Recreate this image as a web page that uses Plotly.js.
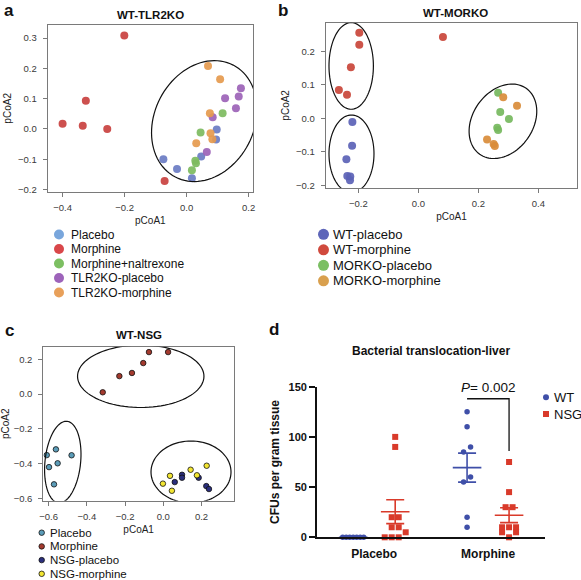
<!DOCTYPE html>
<html><head><meta charset="utf-8">
<script src="https://cdn.plot.ly/plotly-3.0.1.min.js"></script>
<style>html,body{margin:0;padding:0;background:#fff}#chart{width:581px;height:580px}</style>
</head><body><div id="chart"></div>
<script>
// ---------------- Data ----------------
// Panel a: WT-TLR2KO
const aGroups = ["Placebo", "Morphine", "Morphine+naltrexone", "TLR2KO-placebo", "TLR2KO-morphine"];
const aPlaceboX = [-0.075, -0.031, 0.017, 0.047, 0.097, 0.095];
const aPlaceboY = [-0.100, -0.132, -0.163, -0.091, -0.002, -0.035];
const aMorphineX = [-0.201, -0.325, -0.400, -0.335, -0.256, -0.071];
const aMorphineY = [0.308, 0.093, 0.017, 0.011, 0.000, -0.172];
const aNaltrexoneX = [0.045, 0.116, 0.028, 0.030, 0.017];
const aNaltrexoneY = [-0.012, 0.052, -0.105, -0.113, -0.136];
const aKoPlaceboX = [0.175, 0.168, 0.124, 0.159, 0.084, 0.065];
const aKoPlaceboY = [0.134, 0.107, 0.101, 0.068, 0.039, -0.076];
const aKoMorphineX = [0.069, 0.108, 0.075, 0.077, 0.083, 0.031];
const aKoMorphineY = [0.208, 0.164, 0.052, -0.014, -0.034, -0.047];

// Panel b: WT-MORKO
const bGroups = ["WT-placebo", "WT-morphine", "MORKO-placebo", "MORKO-morphine"];
const bWtPlaceboX = [-0.220, -0.221, -0.240, -0.237, -0.227, -0.228];
const bWtPlaceboY = [-0.011, -0.082, -0.122, -0.172, -0.174, -0.185];
const bWtMorphineX = [-0.197, -0.197, -0.225, -0.265, -0.238, 0.082];
const bWtMorphineY = [0.255, 0.219, 0.152, 0.084, 0.070, 0.242];
const bKoPlaceboX = [0.266, 0.273, 0.302, 0.263, 0.266];
const bKoPlaceboY = [0.076, 0.019, -0.002, -0.028, -0.035];
const bKoMorphineX = [0.283, 0.329, 0.229, 0.251, 0.255];
const bKoMorphineY = [0.063, 0.037, -0.063, -0.077, -0.083];

// Panel c: WT-NSG
const cGroups = ["Placebo", "Morphine", "NSG-placebo", "NSG-morphine"];
const cPlaceboX = [-0.610, -0.562, -0.480, -0.598, -0.553, -0.572];
const cPlaceboY = [-0.351, -0.318, -0.352, -0.420, -0.398, -0.519];
const cMorphineX = [-0.317, -0.230, -0.164, -0.105, -0.075, 0.025];
const cMorphineY = [0.010, 0.103, 0.121, 0.178, 0.241, 0.241];
const cNsgPlaceboX = [0.060, 0.098, 0.098, 0.185, 0.225, 0.239];
const cNsgPlaceboY = [-0.506, -0.464, -0.481, -0.481, -0.529, -0.546];
const cNsgMorphineX = [-0.002, 0.035, 0.045, 0.143, 0.176, 0.227];
const cNsgMorphineY = [-0.515, -0.470, -0.556, -0.435, -0.467, -0.412];

// Panel d: Bacterial translocation-liver (CFUs per gram tissue)
const dCategories = ["Placebo", "Morphine"];
const dSeries = ["WT", "NSG"];
const dWtPlacebo = [0, 0, 0, 0, 0, 0, 0];
const dNsgPlacebo = [100, 90, 20, 20, 10, 10, 5, 0, 0, 0];
const dWtMorphine = [125, 110, 90, 85, 60, 55, 20, 10];
const dNsgMorphine = [75, 45, 30, 30, 10, 10, 10, 5, 5, 0];
const dPText = "<i>P</i>= 0.002";

// ---------------- Styling / layout ----------------
const W = 581, H = 580;
const FONT = "Liberation Sans, Arial, Helvetica, sans-serif";
const px2x = p => p / W;
const px2y = p => 1 - p / H;

// plot frames in px: [left, right, top, bottom]
const frames = {
  a: [47.7, 253, 25, 191.7],
  b: [325.7, 577.3, 22.7, 188],
  c: [43.3, 234, 346.7, 500.7],
  d: [316.7, 545, 386.7, 537.3]
};
const ranges = {
  a: {x: [-0.448, 0.214], y: [-0.207, 0.343]},
  b: {x: [-0.309, 0.530], y: [-0.208, 0.285]},
  c: {x: [-0.628, 0.370], y: [-0.613, 0.272]},
  d: {x: [-0.505, 1.5], y: [0, 150]}
};
const pxPer = k => ({
  x: (frames[k][1] - frames[k][0]) / (ranges[k].x[1] - ranges[k].x[0]),
  y: (frames[k][3] - frames[k][2]) / (ranges[k].y[1] - ranges[k].y[0])
});
const dom = k => ({x: [px2x(frames[k][0]), px2x(frames[k][1])], y: [px2y(frames[k][3]), px2y(frames[k][2])]});

const aColors = ["#6a7cc3", "#c9413f", "#7dbb5f", "#9c63b7", "#e59a4e"];
const aLegendColors = ["#79a6dc", "#d9474a", "#7cbf62", "#9d63ba", "#e8a05a"];
const bColors = ["#5b62b6", "#c9453a", "#76b85e", "#d98c3a"];
const bLegendColors = ["#5e66b9", "#d04a3d", "#7bbf63", "#d9a04e"];
const cColors = ["#5b9cb8", "#a33a2e", "#2b2f7d", "#f2e531"];
const dColors = ["#3f4fa8", "#d93a2a"];

const traces = [];
function pcoa(xs, ys, color, axSuffix, size, outline) {
  traces.push({
    type: "scatter", mode: "markers", x: xs, y: ys,
    xaxis: "x" + axSuffix, yaxis: "y" + axSuffix, showlegend: false, hoverinfo: "x+y",
    marker: {color: color, size: size, opacity: outline ? 1 : 0.92,
      line: outline ? {color: "#111", width: 0.8} : {width: 0}}
  });
}
pcoa(aPlaceboX, aPlaceboY, aColors[0], "", 8);
pcoa(aMorphineX, aMorphineY, aColors[1], "", 8);
pcoa(aNaltrexoneX, aNaltrexoneY, aColors[2], "", 8);
pcoa(aKoPlaceboX, aKoPlaceboY, aColors[3], "", 8);
pcoa(aKoMorphineX, aKoMorphineY, aColors[4], "", 8);
pcoa(bWtPlaceboX, bWtPlaceboY, bColors[0], "2", 8);
pcoa(bWtMorphineX, bWtMorphineY, bColors[1], "2", 8);
pcoa(bKoPlaceboX, bKoPlaceboY, bColors[2], "2", 8);
pcoa(bKoMorphineX, bKoMorphineY, bColors[3], "2", 8);
pcoa(cPlaceboX, cPlaceboY, cColors[0], "3", 5.5, true);
pcoa(cMorphineX, cMorphineY, cColors[1], "3", 5.5, true);
pcoa(cNsgPlaceboX, cNsgPlaceboY, cColors[2], "3", 5.5, true);
pcoa(cNsgMorphineX, cNsgMorphineY, cColors[3], "3", 5.5, true);

// Panel d: scatter-dot plot with mean ± SEM
const dPx = pxPer("d");
const groupOffsetPx = 21;
function swarm(values, center) {
  const slotPx = 7, maxRowPx = 21, thresh = 6;
  const idx = values.map((v, i) => i).sort((i, j) => values[i] - values[j]);
  const xs = new Array(values.length);
  let k = 0;
  while (k < idx.length) {
    const start = values[idx[k]];
    const row = [];
    while (k < idx.length && values[idx[k]] - start < thresh) { row.push(idx[k]); k++; }
    const n = row.length;
    const step = n > 1 ? Math.min(slotPx, maxRowPx / (n - 1)) : 0;
    const slots = [];
    for (let s = 0; s < n; s++) slots.push((s - (n - 1) / 2) * step);
    slots.sort((p, q) => (Math.abs(p) - Math.abs(q)) || (p - q));
    row.forEach((id, r) => { xs[id] = center + slots[r] / dPx.x; });
  }
  return xs;
}
const mean = v => v.reduce((s, a) => s + a, 0) / v.length;
const sem = v => { const m = mean(v); return Math.sqrt(v.reduce((s, a) => s + (a - m) * (a - m), 0) / (v.length - 1)) / Math.sqrt(v.length); };

const dGroups = [
  {vals: dWtPlacebo, cat: 0, s: 0},
  {vals: dNsgPlacebo, cat: 0, s: 1},
  {vals: dWtMorphine, cat: 1, s: 0},
  {vals: dNsgMorphine, cat: 1, s: 1}
];
const dCenters = [];
dGroups.forEach(g => {
  const c = g.cat + (g.s === 0 ? -1 : 1) * groupOffsetPx / dPx.x;
  dCenters.push(c);
  traces.push({
    type: "scatter", mode: "markers", x: swarm(g.vals, c), y: g.vals,
    xaxis: "x4", yaxis: "y4", showlegend: false, cliponaxis: false,
    name: dSeries[g.s] + " " + dCategories[g.cat],
    marker: {color: dColors[g.s], size: g.s === 0 ? 5.5 : 6, symbol: g.s === 0 ? "circle" : "square", line: {width: 0}}
  });
  const m = mean(g.vals), e = sem(g.vals);
  const hw = 14.3 / dPx.x, cw = 9 / dPx.x;
  traces.push({
    type: "scatter", mode: "lines", xaxis: "x4", yaxis: "y4", showlegend: false, hoverinfo: "skip", cliponaxis: false,
    x: [c - hw, c + hw, null, c, c, null, c - cw, c + cw, null, c - cw, c + cw],
    y: [m, m, null, m - e, m + e, null, m - e, m - e, null, m + e, m + e],
    line: {color: dColors[g.s], width: 1.6}
  });
});
// significance bracket between WT and NSG morphine
const bracketTop = Math.max(...dWtMorphine) + 13;
const bracketLeg = Math.max(...dNsgMorphine) + 11;
traces.push({
  type: "scatter", mode: "lines", xaxis: "x4", yaxis: "y4", showlegend: false, hoverinfo: "skip", cliponaxis: false,
  x: [dCenters[2], dCenters[3], dCenters[3]], y: [bracketTop, bracketTop, bracketLeg],
  line: {color: "#111", width: 1.3}
});

// ---------------- Axes ----------------
function pcoaAxis(k, letter, dtick, title, anchor, standoff) {
  const d = dom(k);
  return {
    domain: d[letter], range: ranges[k][letter], anchor: anchor,
    showline: true, mirror: true, linecolor: "#7a7a7a", linewidth: 1,
    ticks: "outside", ticklen: 4, tickcolor: "#7a7a7a", tickwidth: 1,
    ticklabelstandoff: letter === "x" ? 3 : 4,
    tickfont: {family: FONT, size: 9.5, color: "#3a3a3a"},
    tick0: 0, dtick: dtick, tickformat: ".1f",
    showgrid: false, zeroline: false, fixedrange: true,
    title: {text: title, font: {family: FONT, size: 10, color: "#222"}, standoff: standoff}
  };
}
const layout = {
  width: W, height: H, margin: {l: 0, r: 0, t: 0, b: 0},
  paper_bgcolor: "#fff", plot_bgcolor: "#fff", showlegend: false,
  font: {family: FONT, color: "#111"},
  xaxis: pcoaAxis("a", "x", 0.2, "pCoA1", "y", 4),
  yaxis: pcoaAxis("a", "y", 0.1, "pCoA2", "x", 4),
  xaxis2: pcoaAxis("b", "x", 0.2, "pCoA1", "y2", 4),
  yaxis2: pcoaAxis("b", "y", 0.1, "pCoA2", "x2", 4),
  xaxis3: pcoaAxis("c", "x", 0.2, "pCoA1", "y3", 4),
  yaxis3: pcoaAxis("c", "y", 0.2, "pCoA2", "x3", 4),
  xaxis4: {
    domain: dom("d").x, range: ranges.d.x, anchor: "y4",
    showline: true, linecolor: "#111", linewidth: 1.6, ticks: "",
    tickvals: [0, 1], ticktext: dCategories, ticklabelstandoff: 5,
    tickfont: {family: FONT, size: 12, color: "#111", weight: "bold"},
    showgrid: false, zeroline: false, fixedrange: true
  },
  yaxis4: {
    domain: dom("d").y, range: ranges.d.y, anchor: "x4",
    showline: true, linecolor: "#111", linewidth: 1.6,
    ticks: "outside", ticklen: 6, tickwidth: 1.6, tickcolor: "#111",
    tickvals: [0, 50, 100, 150],
    tickfont: {family: FONT, size: 11, color: "#111", weight: "bold"},
    showgrid: false, zeroline: false, fixedrange: true,
    title: {text: "CFUs per gram tissue", font: {family: FONT, size: 12, color: "#111", weight: "bold"}, standoff: 6}
  },
  annotations: [],
  shapes: []
};

// panel letters and titles
const ann = (px, py, text, size, opts) => Object.assign({
  xref: "paper", yref: "paper", x: px2x(px), y: px2y(py), text: text, showarrow: false,
  font: {family: FONT, size: size, color: "#111"}, xanchor: "center", yanchor: "middle"
}, opts || {});
[["a", 8.5, 10.5], ["b", 283, 10.5], ["c", 9, 330], ["d", 274, 329]].forEach(l =>
  layout.annotations.push(ann(l[1], l[2], "<b>" + l[0] + "</b>", 17)));
layout.annotations.push(ann(150, 14.5, "<b>WT-TLR2KO</b>", 11.5));
layout.annotations.push(ann(455, 13.5, "<b>WT-MORKO</b>", 11.5));
layout.annotations.push(ann(139, 335, "<b>WT-NSG</b>", 11.5));
layout.annotations.push(ann(431, 351, "<b>Bacterial translocation-liver</b>", 12));
layout.annotations.push({xref: "x4", yref: "y4", x: 1, y: bracketTop + 2, text: dPText, showarrow: false,
  xanchor: "center", yanchor: "bottom", font: {family: FONT, size: 13.5, color: "#111"}});

// manual legends
function legend(names, colors, mx, tx, y0, dy, diam, fontSize, opts) {
  names.forEach((n, i) => {
    const cy = y0 + i * dy;
    const sym = opts && opts.symbols ? opts.symbols[i] : "circle";
    layout.shapes.push({
      type: sym === "square" ? "rect" : "circle", xref: "paper", yref: "paper",
      x0: px2x(mx - diam / 2), x1: px2x(mx + diam / 2), y0: px2y(cy + diam / 2), y1: px2y(cy - diam / 2),
      fillcolor: colors[i], line: opts && opts.outline ? {color: "#111", width: 0.8} : {width: 0}
    });
    layout.annotations.push(ann(tx, cy, n, fontSize, {xanchor: "left"}));
  });
}
legend(aGroups, aLegendColors, 59, 68.5, 234.5, 14.5, 10, 12);
legend(bGroups, bLegendColors, 323.5, 330.5, 234.3, 15.5, 11, 13);
legend(cGroups, cColors, 41.7, 47.5, 532.7, 13.7, 5.5, 11.5, {outline: true});
legend(dSeries, dColors, 546, 552, 397.3, 16.7, 6, 13, {symbols: ["circle", "square"]});

// ellipses (confidence ellipses drawn as paths in data space)
function ellipse(k, axSuffix, cx, cy, aPx, bPx, angDeg) {
  const p = pxPer(k), f = angDeg * Math.PI / 180;
  const pts = [];
  for (let i = 0; i <= 96; i++) {
    const t = 2 * Math.PI * i / 96;
    const ex = aPx * Math.cos(t), ey = bPx * Math.sin(t);
    const dx = ex * Math.cos(f) - ey * Math.sin(f);
    const dy = ex * Math.sin(f) + ey * Math.cos(f);
    pts.push((cx + dx / p.x).toFixed(5) + "," + (cy + dy / p.y).toFixed(5));
  }
  layout.shapes.push({type: "path", xref: "x" + axSuffix, yref: "y" + axSuffix,
    path: "M" + pts.join("L") + "Z", line: {color: "#111", width: 1.2}, layer: "above"});
}
ellipse("a", "", 0.057, 0.026, 63, 49.7, 62.7);
ellipse("b", "2", -0.224, 0.156, 22.2, 43.3, 0);
ellipse("b", "2", -0.223, -0.106, 22.5, 38.8, 0);
ellipse("b", "2", 0.282, -0.009, 40.3, 30.1, 54.8);
ellipse("c", "3", -0.118, 0.102, 63.2, 31.2, 0);
ellipse("c", "3", -0.526, -0.391, 17.8, 41, -6);
ellipse("c", "3", 0.145, -0.448, 40, 31, 0);

Plotly.newPlot("chart", traces, layout, {displayModeBar: false, staticPlot: true});
</script>
</body></html>
